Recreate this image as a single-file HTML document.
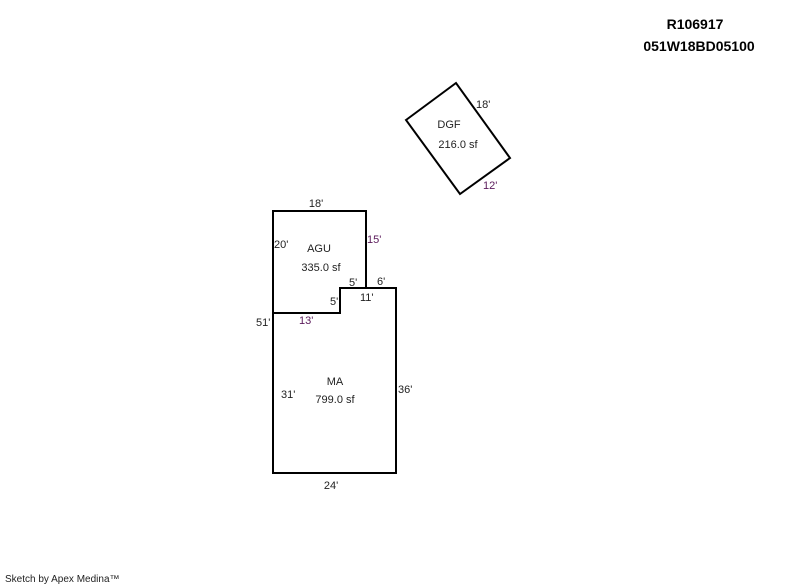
<!DOCTYPE html>
<html><head><meta charset="utf-8"><style>
html,body{margin:0;padding:0;background:#fff;width:800px;height:587px;overflow:hidden}
svg{display:block}
text{font-family:"Liberation Sans",Arial,sans-serif;font-size:11px;fill:#222}
.b{font-weight:bold;font-size:14px;fill:#000}
.p{fill:#5a1a5a}
</style></head><body>
<svg width="800" height="587" viewBox="0 0 800 587">
<g fill="none" stroke="#000" stroke-width="2">
<polyline points="273,313 273,211 366,211 366,288"/>
<polyline points="273,313 340,313 340,288 396,288 396,473 273,473 273,313"/>
<polygon points="406,120 456,83 510,158 460,194"/>
</g>
<text class="b" x="695" y="29" text-anchor="middle">R106917</text>
<text class="b" x="699" y="51" text-anchor="middle">051W18BD05100</text>
<text x="449" y="128" text-anchor="middle">DGF</text>
<text x="458" y="148" text-anchor="middle">216.0 sf</text>
<text x="476" y="108">18'</text>
<text class="p" x="483" y="189">12'</text>
<text x="316" y="207" text-anchor="middle">18'</text>
<text x="274" y="248">20'</text>
<text class="p" x="367" y="243">15'</text>
<text x="319" y="252" text-anchor="middle">AGU</text>
<text x="321" y="271" text-anchor="middle">335.0 sf</text>
<text x="349" y="286">5'</text>
<text x="377" y="285">6'</text>
<text x="330" y="305">5'</text>
<text x="360" y="301">11'</text>
<text x="256" y="326">51'</text>
<text class="p" x="299" y="324">13'</text>
<text x="335" y="385" text-anchor="middle">MA</text>
<text x="335" y="403" text-anchor="middle">799.0 sf</text>
<text x="281" y="398">31'</text>
<text x="398" y="393">36'</text>
<text x="331" y="489" text-anchor="middle">24'</text>
<text x="5" y="582" style="font-size:10px">Sketch by Apex Medina™</text>
</svg>
</body></html>
